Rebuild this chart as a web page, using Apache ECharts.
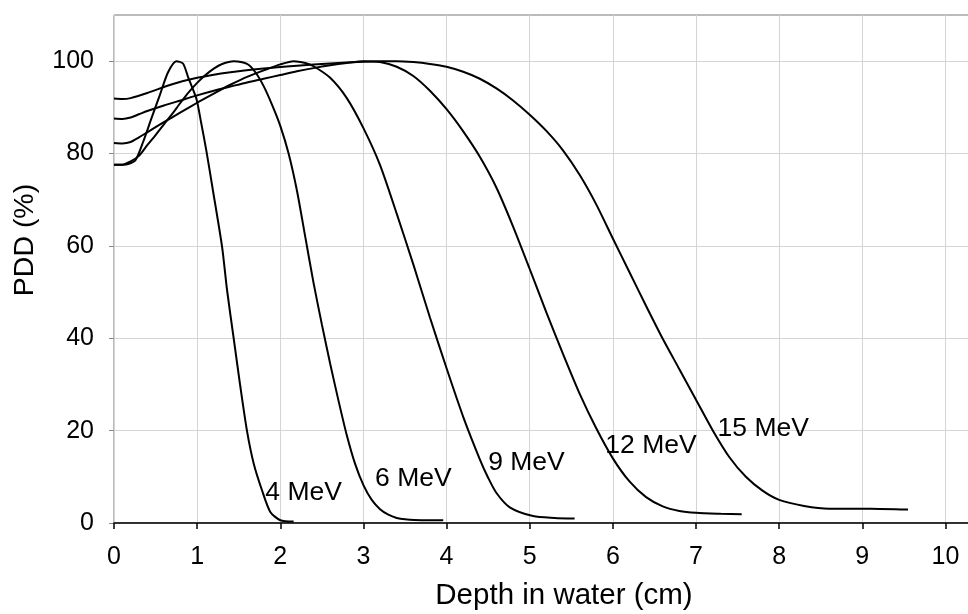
<!DOCTYPE html>
<html>
<head>
<meta charset="utf-8">
<script src="https://cdn.jsdelivr.net/npm/echarts@6/dist/echarts.min.js"></script>
<style>
  html, body { margin: 0; padding: 0; background: #fff; }
  #chart { width: 968px; height: 614px; }
</style>
</head>
<body>
<div id="chart"></div>
<script>
// depth (cm) / PDD (%), one pair of arrays per beam
var depth4 = [0, 0.1, 0.17, 0.26, 0.35, 0.45, 0.55, 0.65, 0.75, 0.83, 0.89, 0.99, 1.05, 1.11, 1.19, 1.3, 1.36, 1.44, 1.52, 1.6, 1.68, 1.78, 1.88, 2.0, 2.16];
var pdd4   = [77.6, 77.6, 77.7, 78.6, 82.5, 87.6, 92.6, 97.6, 100, 99.5, 96.6, 91.9, 86.5, 80.7, 72, 59.8, 50.4, 39.9, 29.5, 19.9, 12.9, 7.1, 2.4, 0.6, 0.3];

var depth6 = [0, 0.1, 0.2, 0.3, 0.4, 0.5, 0.6, 0.7, 0.8, 0.9, 1.0, 1.1, 1.2, 1.3, 1.44, 1.6, 1.7, 1.8, 1.9, 2.0, 2.1, 2.2, 2.3, 2.4, 2.5, 2.6, 2.7, 2.8, 2.9, 3.0, 3.1, 3.2, 3.3, 3.4, 3.5, 3.7, 3.96];
var pdd6   = [77.6, 77.6, 78.3, 79.5, 81.8, 84, 86.3, 88.6, 91, 93.3, 95.3, 97, 98.4, 99.4, 100, 99.4, 97.6, 94.6, 90.6, 86, 80, 72, 62, 52, 43, 34.5, 26.5, 19, 12.8, 8.2, 5, 3, 1.8, 1.1, 0.8, 0.6, 0.6];

var depth9 = [0, 0.1, 0.2, 0.3, 0.4, 0.6, 0.8, 1.0, 1.2, 1.4, 1.6, 1.8, 2.0, 2.16, 2.3, 2.4, 2.6, 2.8, 3.0, 3.2, 3.4, 3.6, 3.8, 4.0, 4.2, 4.4, 4.5, 4.6, 4.76, 5.04, 5.3, 5.54];
var pdd9   = [82.3, 82.2, 82.5, 83.5, 84.6, 86.8, 88.9, 91, 93, 94.9, 96.6, 98, 99.3, 100, 99.6, 98.9, 96.4, 92, 85.5, 77.5, 67, 56, 44.5, 33.5, 23, 13.8, 9.8, 6.5, 3.4, 1.5, 1.1, 0.95];

var depth12 = [0, 0.1, 0.2, 0.3, 0.4, 0.6, 0.8, 1.0, 1.2, 1.4, 1.6, 1.8, 2.0, 2.2, 2.4, 2.6, 2.8, 3.0, 3.2, 3.4, 3.6, 3.8, 4.0, 4.2, 4.4, 4.6, 4.8, 5.0, 5.2, 5.4, 5.6, 5.8, 6.0, 6.2, 6.4, 6.6, 6.8, 7.0, 7.3, 7.55];
var pdd12   = [87.6, 87.5, 87.8, 88.5, 89.2, 90.4, 91.5, 92.6, 93.6, 94.5, 95.4, 96.2, 97, 97.8, 98.5, 99.1, 99.6, 100, 99.8, 98.8, 96.8, 93.6, 89.6, 84.8, 79.3, 72.6, 64.2, 55, 45.6, 36.6, 28, 20.5, 14, 9, 5.6, 3.6, 2.6, 2.2, 2.0, 1.9];

var depth15 = [0, 0.1, 0.2, 0.4, 0.7, 1.0, 1.4, 1.8, 2.2, 2.6, 3.0, 3.2, 3.4, 3.6, 3.8, 4.0, 4.2, 4.4, 4.6, 4.8, 5.0, 5.2, 5.4, 5.6, 5.8, 6.0, 6.2, 6.4, 6.6, 6.8, 7.0, 7.2, 7.4, 7.6, 7.8, 8.0, 8.3, 8.6, 9.1, 9.55];
var pdd15   = [91.9, 91.8, 92.0, 93.1, 95.0, 96.4, 97.6, 98.4, 99.0, 99.5, 99.9, 100, 100, 99.8, 99.4, 98.8, 97.7, 96.2, 94.1, 91.5, 88.4, 84.9, 80.7, 75.4, 69.0, 61.6, 54.3, 47.0, 39.9, 33.3, 26.7, 20.1, 14.3, 10, 7, 5.0, 3.7, 3.1, 3.1, 2.9];

// curve labels, anchored at their left edge
var labelText  = ['4 MeV', '6 MeV', '9 MeV', '12 MeV', '15 MeV'];
var labelDepth = [1.82, 3.14, 4.5, 5.91, 7.26];
var labelPdd   = [6.6, 9.6, 13.0, 16.8, 20.4];

var xTicks = [0, 1, 2, 3, 4, 5, 6, 7, 8, 9, 10];
var yTicks = [0, 20, 40, 60, 80, 100];

var FONT = '"Liberation Sans", Arial, sans-serif';

function pairs(xs, ys) {
  return xs.map(function (x, i) { return [x, ys[i]]; });
}

function curve(name, xs, ys) {
  return {
    name: name,
    type: 'line',
    data: pairs(xs, ys),
    showSymbol: false,
    smooth: 0.25,
    lineStyle: { color: '#000', width: 2 },
    silent: true,
    z: 3
  };
}

var chart = echarts.init(document.getElementById('chart'));

var option = {
  animation: false,
  backgroundColor: '#fff',
  grid: {
    left: 114, top: 15, width: 873, height: 508,
    outerBoundsMode: 'none',
    show: true, borderColor: '#777', borderWidth: 1
  },
  xAxis: {
    type: 'value',
    min: 0, max: 10.5, interval: 1,
    axisLine: { show: true, onZero: false, lineStyle: { color: '#000', width: 1.5 } },
    axisTick: { show: true, length: 6, lineStyle: { color: '#000', width: 1.5 } },
    splitLine: { show: true, lineStyle: { color: '#d4d4d4', width: 1 } },
    axisLabel: {
      margin: 22,
      fontSize: 25, fontFamily: FONT, color: '#000',
      formatter: function (v) { return xTicks.indexOf(v) >= 0 ? String(v) : ''; }
    }
  },
  yAxis: {
    type: 'value',
    min: 0, max: 110, interval: 20,
    axisLine: { show: false },
    axisTick: { show: true, length: 5, customValues: yTicks, lineStyle: { color: '#888' } },
    splitLine: { show: true, lineStyle: { color: '#d4d4d4', width: 1 } },
    axisLabel: {
      margin: 20,
      fontSize: 25, fontFamily: FONT, color: '#000',
      formatter: function (v) { return yTicks.indexOf(v) >= 0 ? String(v) : ''; }
    }
  },
  graphic: [
    {
      type: 'text', x: 564, y: 596, silent: true,
      style: { text: 'Depth in water (cm)', font: '29.5px ' + FONT, fill: '#000', align: 'center', verticalAlign: 'middle' }
    },
    {
      type: 'text', x: 25, y: 240, rotation: Math.PI / 2, silent: true,
      style: { text: 'PDD (%)', font: '28.5px ' + FONT, fill: '#000', align: 'center', verticalAlign: 'middle' }
    }
  ],
  series: [
    curve('4 MeV', depth4, pdd4),
    curve('6 MeV', depth6, pdd6),
    curve('9 MeV', depth9, pdd9),
    curve('12 MeV', depth12, pdd12),
    curve('15 MeV', depth15, pdd15),
    {
      type: 'scatter',
      symbolSize: 0,
      silent: true,
      z: 4,
      itemStyle: { opacity: 1 },
      data: labelDepth.map(function (x, i) { return { value: [x, labelPdd[i]], name: labelText[i] }; }),
      label: {
        show: true, position: 'right', distance: 0,
        formatter: function (p) { return p.name; },
        fontSize: 26.5, fontFamily: FONT, color: '#000'
      }
    }
  ]
};

chart.setOption(option);
</script>
</body>
</html>
